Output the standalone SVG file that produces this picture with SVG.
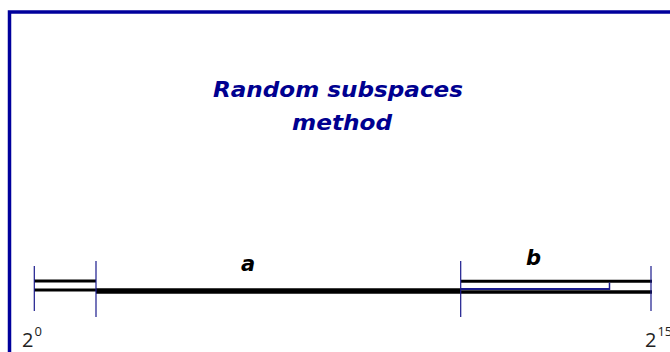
<svg xmlns="http://www.w3.org/2000/svg" width="670" height="352" viewBox="0 0 670 352">
<style>
.title{font-family:"DejaVu Sans",Verdana,sans-serif;font-weight:bold;font-style:italic;font-size:21px;fill:#000090;text-anchor:middle}
.lbl{font-family:"DejaVu Sans",Verdana,sans-serif;font-weight:bold;font-style:italic;font-size:21px;fill:#000}
.pow{font-family:"Open Sans","Liberation Sans",sans-serif;font-size:20px;fill:#222}
.sup{font-size:13px}
.tick{stroke:#1a1a8c;stroke-width:1.2}
.blk{stroke:#000;fill:none}
</style>
<rect x="9.5" y="12" width="700" height="400" fill="#fff" stroke="#00009c" stroke-width="3.5"/>
<g id="title">
<text class="title" x="338" y="97" textLength="250" lengthAdjust="spacingAndGlyphs">Random subspaces</text>
<text class="title" x="342" y="130" textLength="100" lengthAdjust="spacingAndGlyphs">method</text>
</g>
<g id="connectors">
<line class="blk" x1="34" y1="281" x2="96" y2="281" stroke-width="3"/>
<line class="blk" x1="34" y1="290" x2="96" y2="290" stroke-width="3"/>
<line class="blk" x1="96" y1="291" x2="461" y2="291" stroke-width="5.5"/>
<line class="blk" x1="461" y1="281.3" x2="652" y2="281.3" stroke-width="3"/>
<line class="blk" x1="461" y1="292" x2="652" y2="292" stroke-width="3.5"/>
<line x1="461" y1="289" x2="610" y2="289" stroke="#1a1a8c" stroke-width="2"/>
<line x1="609.5" y1="282.5" x2="609.5" y2="290" stroke="#1a1a8c" stroke-width="1.5"/>
<line class="tick" x1="34.3" y1="266" x2="34.3" y2="311"/>
<line class="tick" x1="96" y1="261" x2="96" y2="317"/>
<line class="tick" x1="460.7" y1="261" x2="460.7" y2="317"/>
<line class="tick" x1="651" y1="266" x2="651" y2="311"/>
</g>
<g id="label-a"><text class="lbl" x="241" y="271">a</text></g>
<g id="label-b"><text class="lbl" x="526" y="265">b</text></g>
<g id="pow0"><text class="pow" x="22" y="347">2<tspan class="sup" dx="1" dy="-11">0</tspan></text></g>
<g id="pow15"><text class="pow" x="645" y="347">2<tspan class="sup" dx="1" dy="-11">15</tspan></text></g>
</svg>
